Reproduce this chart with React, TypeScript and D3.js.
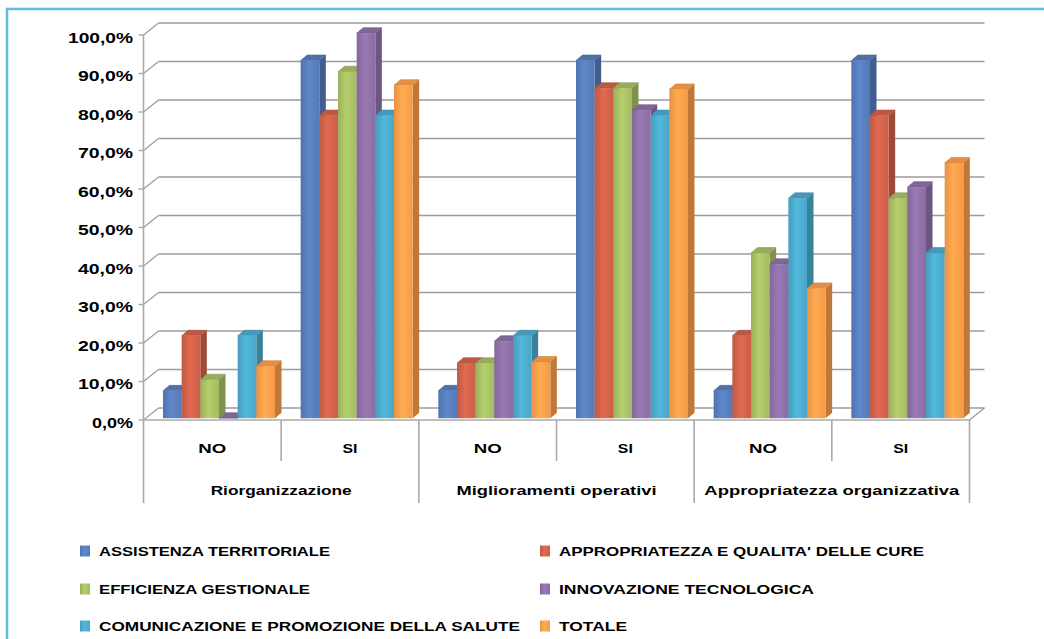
import React from "react";
import * as d3 from "d3";

// Sub-categories (inner axis level) and their groups (outer axis level)
const categories = ["NO", "SI", "NO", "SI", "NO", "SI"];
const groups = ["Riorganizzazione", "Miglioramenti operativi", "Appropriatezza organizzativa"];

const seriesNames = [
  "ASSISTENZA TERRITORIALE",
  "APPROPRIATEZZA E QUALITA' DELLE CURE",
  "EFFICIENZA GESTIONALE",
  "INNOVAZIONE TECNOLOGICA",
  "COMUNICAZIONE E PROMOZIONE DELLA SALUTE",
  "TOTALE",
];

// Percent values per series, in category order
const assistenza = [7.1, 92.9, 7.1, 92.9, 7.1, 92.9];
const appropriatezza = [21.4, 78.6, 14.3, 85.7, 21.4, 78.6];
const efficienza = [10.0, 90.0, 14.3, 85.7, 42.9, 57.1];
const innovazione = [0.0, 100.0, 20.0, 80.0, 40.0, 60.0];
const comunicazione = [21.4, 78.6, 21.4, 78.6, 57.1, 42.9];
const totale = [13.5, 86.5, 14.6, 85.4, 33.7, 66.3];

const seriesValues = [assistenza, appropriatezza, efficienza, innovazione, comunicazione, totale];
const colors = ["#5579B6", "#CA5F48", "#A3BA62", "#8A6DA2", "#4AA5C7", "#F59A48"];

const yTicks = [0, 10, 20, 30, 40, 50, 60, 70, 80, 90, 100];

// Legend label widths (px) so the bold caps spread as wide as in the layout
const legendWidths = [231, 365, 211, 255, 421, 68];
const groupLabelWidths = [141, 200, 255];

const W = 1044;
const H = 639;

// Plot frame (front plane) and oblique depth offset
const X0 = 143.5;
const X1 = 969.5;
const DX = 15;
const DY = -12;

// Bars sit a little behind the front plane and have their own depth
const BAR_Z = 0.15;
const BAR_DX = 6.5;
const BAR_DY = -5.5;

const FONT = "Arial, 'Liberation Sans', sans-serif";

const fmtPct = (v: number) => d3.format(".1f")(v).replace(".", ",") + "%";

export default function App() {
  const y = d3.scaleLinear().domain([0, 100]).range([420, 35]);
  const x0 = d3.scaleBand<number>().domain(d3.range(categories.length)).range([X0, X1]);
  const x1 = d3
    .scaleBand<string>()
    .domain(seriesNames)
    .range([19.5, 19.5 + 112]);

  const grid = "#9E9A9E";
  const axis = "#ADA8A8";
  const bw = x1.bandwidth();
  const zdy = DY * BAR_Z;

  const tickLen = (s: string) => (s.length >= 6 ? 65 : s.length === 5 ? 55 : 41);

  return (
    <svg
      width={W}
      height={H}
      viewBox={`0 0 ${W} ${H}`}
      style={{ position: "absolute", left: 0, top: 0, background: "#fff" }}
      fontFamily={FONT}
    >
      <defs>
        {colors.map((c, i) => {
          const base = d3.color(c)!;
          return (
            <linearGradient key={i} id={`g${i}`} x1="0" x2="1" y1="0" y2="0">
              <stop offset="0" stopColor={base.darker(0.15).formatHex()} />
              <stop offset="0.45" stopColor={base.brighter(0.3).formatHex()} />
              <stop offset="1" stopColor={base.formatHex()} />
            </linearGradient>
          );
        })}
      </defs>

      {/* outer frame */}
      <rect x={7} y={9} width={W + 20} height={H + 20} fill="none" stroke="#62BEDC" strokeWidth={2.6} />

      {/* back wall gridlines and side wall diagonals */}
      {yTicks.map((t) => (
        <g key={t}>
          <line x1={X0 + DX} x2={X1 + DX} y1={y(t) + DY} y2={y(t) + DY} stroke={grid} strokeWidth={1.5} />
          <line x1={X0} x2={X0 + DX} y1={y(t)} y2={y(t) + DY} stroke={grid} strokeWidth={1.2} />
        </g>
      ))}
      {/* floor right edge */}
      <line x1={X1} x2={X1 + DX} y1={y(0)} y2={y(0) + DY} stroke={grid} strokeWidth={1.2} />

      {/* bars */}
      {categories.map((_, ci) => (
        <g key={ci}>
          {seriesNames.map((s, si) => {
            const v = seriesValues[si][ci];
            const c = d3.color(colors[si])!;
            const xl = x0(ci)! + x1(s)!;
            const xr = xl + bw;
            const yb = y(0) + zdy;
            const yt = y(v) + zdy;
            const side = [
              [xr, yb],
              [xr + BAR_DX, yb + BAR_DY],
              [xr + BAR_DX, yt + BAR_DY],
              [xr, yt],
            ];
            const top = [
              [xl, yt],
              [xl + BAR_DX, yt + BAR_DY],
              [xr + BAR_DX, yt + BAR_DY],
              [xr, yt],
            ];
            const pts = (p: number[][]) => p.map((q) => q.join(",")).join(" ");
            return (
              <g key={s}>
                <polygon points={pts(side)} fill={c.darker(0.7).formatHex()} />
                <polygon points={pts(top)} fill={c.darker(0.2).formatHex()} stroke={c.darker(0.5).formatHex()} strokeWidth={0.6} />
                <rect x={xl} y={yt} width={bw} height={Math.max(0, yb - yt)} fill={`url(#g${si})`} />
              </g>
            );
          })}
        </g>
      ))}

      {/* value axis */}
      <line x1={X0} x2={X0} y1={y(100)} y2={503} stroke={axis} strokeWidth={1.6} />
      {yTicks.map((t) => {
        const label = fmtPct(t);
        return (
          <g key={t}>
            <line x1={X0 - 5} x2={X0} y1={y(t)} y2={y(t)} stroke={axis} strokeWidth={1.4} />
            <text
              x={133}
              y={y(t) + 7.5}
              textAnchor="end"
              fontSize={14}
              fontWeight="bold"
              textLength={tickLen(label)}
              lengthAdjust="spacingAndGlyphs"
              fill="#000"
            >
              {label}
            </text>
          </g>
        );
      })}

      {/* category axis: floor front edge and separators */}
      <line x1={X0} x2={X1} y1={y(0)} y2={y(0)} stroke={axis} strokeWidth={1.4} />
      {d3.range(1, categories.length + 1).map((i) => {
        const xs = i === categories.length ? X1 : x0(i)!;
        const long = i % 2 === 0;
        return <line key={i} x1={xs} x2={xs} y1={y(0)} y2={long ? 503 : 461} stroke={axis} strokeWidth={1.6} />;
      })}
      {categories.map((c, i) => (
        <text
          key={i}
          x={x0(i)! + x0.bandwidth() / 2}
          y={453}
          textAnchor="middle"
          fontSize={13}
          fontWeight="bold"
          textLength={c === "NO" ? 28 : 15}
          lengthAdjust="spacingAndGlyphs"
        >
          {c}
        </text>
      ))}
      {groups.map((g, i) => (
        <text
          key={g}
          x={(x0(i * 2)! + x0(i * 2 + 1)! + x0.bandwidth()) / 2}
          y={495}
          textAnchor="middle"
          fontSize={13}
          fontWeight="bold"
          textLength={groupLabelWidths[i]}
          lengthAdjust="spacingAndGlyphs"
        >
          {g}
        </text>
      ))}

      {/* legend: two columns, three rows */}
      {seriesNames.map((s, i) => {
        const col = i % 2;
        const row = Math.floor(i / 2);
        const lx = col === 0 ? 80 : 540;
        const cy = [551, 589, 626][row];
        return (
          <g key={s}>
            <rect x={lx} y={cy - 5.5} width={10} height={11} fill={`url(#g${i})`} />
            <text
              x={lx + 19}
              y={cy + 5}
              fontSize={13}
              fontWeight="bold"
              textLength={legendWidths[i]}
              lengthAdjust="spacingAndGlyphs"
            >
              {s}
            </text>
          </g>
        );
      })}
    </svg>
  );
}
